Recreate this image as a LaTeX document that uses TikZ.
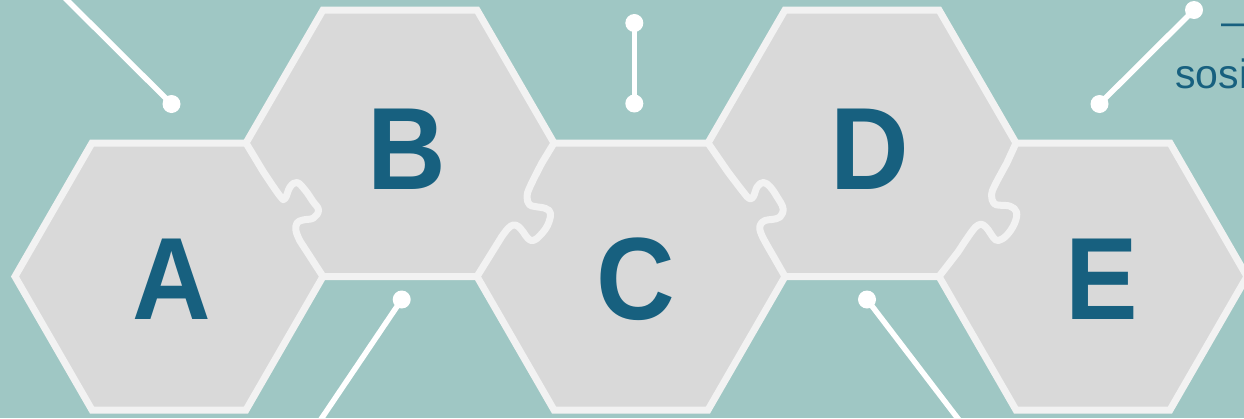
\documentclass[tikz,border=0pt]{standalone}
\usepackage{fontspec}
\setmainfont{Liberation Sans}
\newfontfamily\letterfont[FakeStretch=0.93]{Liberation Sans}
\definecolor{bgteal}{HTML}{9FC7C4}
\definecolor{hexgray}{HTML}{D9D9D9}
\definecolor{rim}{HTML}{F2F2F2}
\definecolor{ink}{HTML}{17607F}
\tikzset{
  rimline/.style={draw=rim, line width=7pt, line join=miter},
  tabline/.style={draw=rim, line width=7pt, line join=round, line cap=round},
  conn/.style={draw=white, line width=5.5pt},
  dot/.style={circle, fill=white, inner sep=0pt, minimum size=18pt},
  letter/.style={text=ink, font=\letterfont\fontsize{117}{120}\selectfont\bfseries, inner sep=0pt, anchor=base},
}
\begin{document}
\begin{tikzpicture}[x=1pt,y=-1pt]
\useasboundingbox (0,0) rectangle (1244,418);
\clip (0,0) rectangle (1244,418);
\fill[bgteal] (0,0) rectangle (1244,418);
% union of hexagons
\path[fill=hexgray, rimline]
  (15,276.5) -- (92,143) -- (246,143) -- (323,10) -- (477,10) -- (554,143)
  -- (708,143) -- (785,10) -- (939,10) -- (1016,143) -- (1170,143)
  -- (1247,276.5) -- (1170,410) -- (1016,410) -- (939,276.5) -- (785,276.5)
  -- (708,410) -- (554,410) -- (477,276.5) -- (323,276.5) -- (246,410)
  -- (92,410) -- cycle;
% puzzle joints
\draw[tabline] (246,143) -- plot[smooth, tension=0.65] coordinates {(263.3,171.7) (280,196) (285,198.5) (290,187) (297,182.5) (305,190) (313,201.5) (318.5,210) (313.5,218) (303,220) (297,223) (296,231) (300,241)} -- (323,276.5);
\draw[tabline] (554,143) -- plot[smooth, tension=0.65] coordinates {(541.7,163.3) (530,186.7) (527,196.7) (529.3,204.5) (535,206.5) (545.5,208.5) (550.5,213.5) (547.5,225.5) (540,235.5) (533.3,240.5) (528,238.5) (523,231.7) (518.3,226.5) (513.3,225) (508,228.5) (501.7,236.7)} -- (477,276.5);
\draw[tabline] (708,143) -- plot[smooth, tension=0.65] coordinates {(728,172) (743.3,192) (749.3,198.5) (753.3,196.7) (757.3,186.7) (763.3,182.5) (770,186.7) (777,196.7) (783,208.3) (780,217) (771.7,219.5) (765,220.5) (760,225.5) (761.7,235) (771.7,253.3)} -- (785,276.5);
\draw[tabline] (1016,143) -- plot[smooth, tension=0.65] coordinates {(1006.7,163.3) (995,185) (991.5,195) (994,203.5) (1000,205.2) (1010,206.2) (1016.5,212) (1014.5,223.5) (1006.7,235.3) (998.3,240.5) (993.3,237.5) (988.3,230) (983.3,225) (978.3,225) (971.7,231.7) (958,252)} -- (939,276.5);
% connectors
\coordinate (c1) at (65,-2);
\node[dot] (d1) at (171.5,104) {};
\draw[conn] (c1) -- (d1.center);
\node[dot] (d2a) at (634.3,23) {};
\node[dot] (d2b) at (634.3,103.5) {};
\draw[conn] (d2a.center) -- (d2b.center);
\node[dot] (d3a) at (1194,10) {};
\node[dot] (d3b) at (1099.5,104) {};
\draw[conn] (d3a.center) -- (d3b.center);
\coordinate (c4) at (320.5,420);
\node[dot] (d4) at (401.7,299.5) {};
\draw[conn] (d4.center) -- (c4);
\coordinate (c5) at (959,420);
\node[dot] (d5) at (867,299.5) {};
\draw[conn] (d5.center) -- (c5);
% letters
\node[letter] (la) at (171.5,319) {A};
\node[letter] (lb) at (406.5,189) {B};
\node[letter] (lc) at (636,319) {C};
\node[letter] (ld) at (870,189) {D};
\node[letter] (le) at (1101.5,319) {E};
% cut-off text at top right
\node[text=ink, font=\fontsize{40}{44}\selectfont, inner sep=0pt, anchor=base west] (t1) at (1221,35) {—};
\node[text=ink, font=\fontsize{41}{44}\selectfont, inner sep=0pt, anchor=base west] (t2) at (1175,88) {sosi};
\end{tikzpicture}
\end{document}
